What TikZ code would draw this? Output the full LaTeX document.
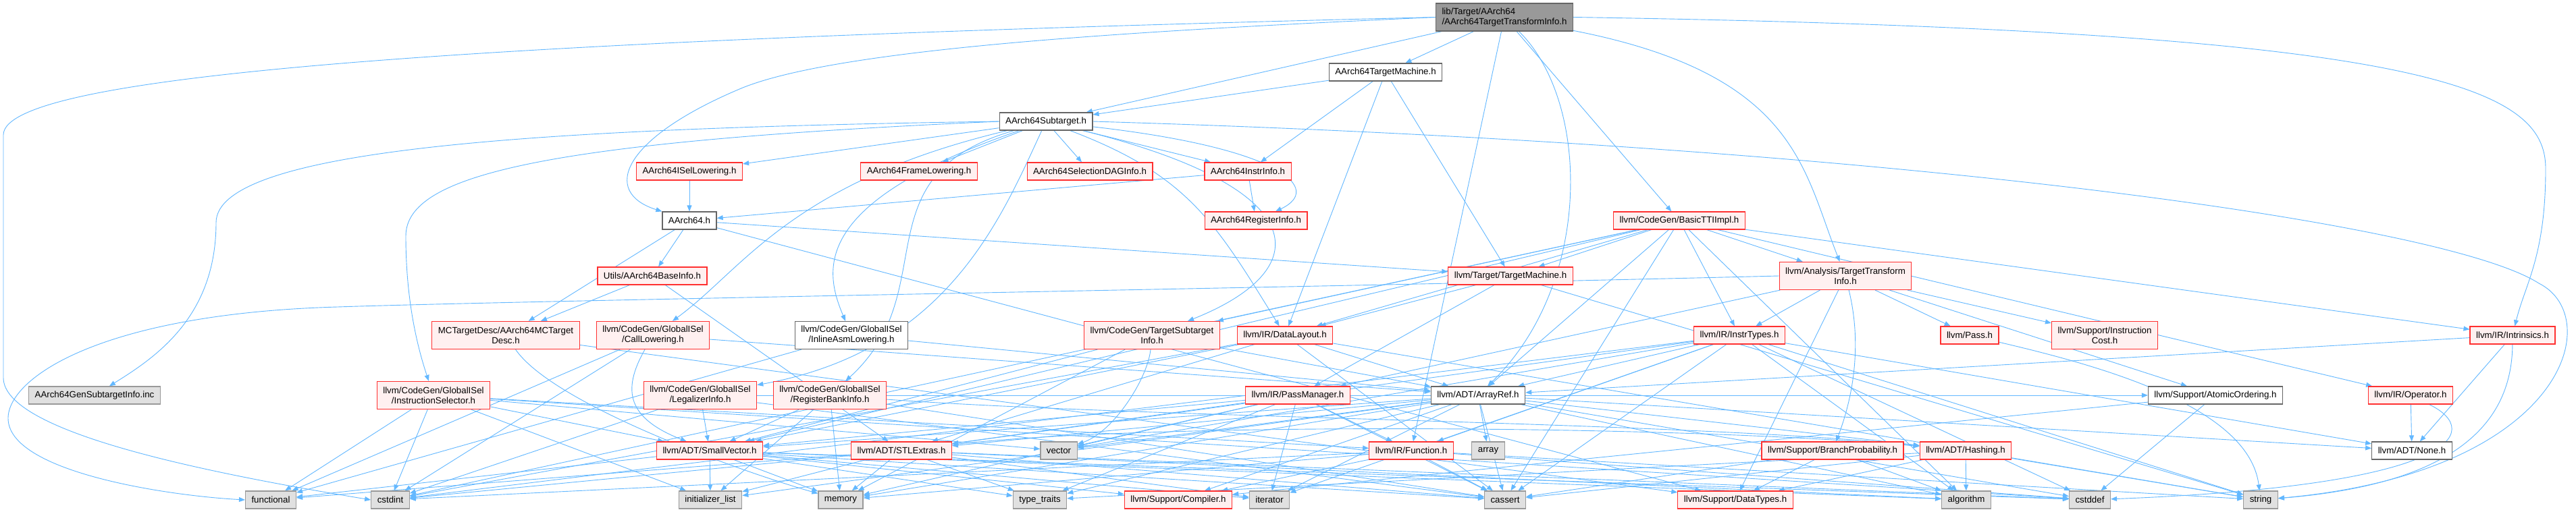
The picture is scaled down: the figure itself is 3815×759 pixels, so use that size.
\documentclass[tikz,border=0pt]{standalone}
\usepackage{fontspec}
\setmainfont{Liberation Sans}
\usetikzlibrary{arrows.meta, backgrounds}

\definecolor{edgeblue}{HTML}{63B8FF}
\definecolor{rootgray}{HTML}{999999}
\definecolor{bordergray}{HTML}{666666}
\definecolor{truncpink}{HTML}{FFF0F0}
\definecolor{truncred}{HTML}{FF3030}
\definecolor{sysgray}{HTML}{E0E0E0}
\definecolor{sysborder}{HTML}{999999}

\begin{document}
\begin{tikzpicture}[x=1pt, y=-1pt,
    file/.style={rectangle, draw, line width=1.2pt, inner xsep=9pt, inner ysep=2pt, minimum height=26pt, align=center, font=\fontsize{13.3pt}{15pt}\selectfont},
    mainfile/.style={file, fill=rootgray, draw=bordergray},
    plainfile/.style={file, fill=white, draw=bordergray},
    trunc/.style={file, fill=truncpink, draw=truncred},
    sysfile/.style={file, fill=sysgray, draw=sysborder},
    tall/.style={minimum height=41pt},
    inc/.style={draw=edgeblue, line width=0.9pt, -{Triangle[length=9pt, width=7pt]}}
]
    \useasboundingbox (0,0) rectangle (3815,759);
    \begin{scope}[on background layer]
        \fill[white] (0,0) rectangle (3815,759);
    \end{scope}

    % top part
    \node[mainfile, tall, align=left] (root) at (2228,25.5) {lib/Target/AArch64\\/AArch64TargetTransformInfo.h};
    \node[plainfile] (tm) at (2052,107) {AArch64TargetMachine.h};
    \node[plainfile] (sub) at (1549,180) {AArch64Subtarget.h};

    \node[trunc] (isel) at (1021,254) {AArch64ISelLowering.h};
    \node[trunc] (frame) at (1361,254) {AArch64FrameLowering.h};
    \node[trunc] (sdag) at (1614,254) {AArch64SelectionDAGInfo.h};
    \node[trunc] (instr) at (1848,254) {AArch64InstrInfo.h};

    \node[plainfile] (aarch) at (1021,327) {AArch64.h};
    \node[trunc] (reginfo) at (1860,327) {AArch64RegisterInfo.h};
    \node[trunc] (basictti) at (2487,327) {llvm/CodeGen/BasicTTIImpl.h};

    \node[trunc] (baseinfo) at (966,409) {Utils/AArch64BaseInfo.h};
    \node[trunc] (ltm) at (2237,409) {llvm/Target/TargetMachine.h};
    \node[trunc, tall] (tti) at (2733,409) {llvm/Analysis/TargetTransform\\Info.h};

    \node[trunc, tall] (mcdesc) at (749,497) {MCTargetDesc/AArch64MCTarget\\Desc.h};
    \node[trunc, tall] (calllow) at (967,497) {llvm/CodeGen/GlobalISel\\/CallLowering.h};
    \node[plainfile, tall] (inlineasm) at (1261,497) {llvm/CodeGen/GlobalISel\\/InlineAsmLowering.h};
    \node[trunc, tall] (tsi) at (1706,497) {llvm/CodeGen/TargetSubtarget\\Info.h};
    \node[trunc] (dl) at (1903,497) {llvm/IR/DataLayout.h};
    \node[trunc] (instrtypes) at (2576,497) {llvm/IR/InstrTypes.h};
    \node[trunc] (pass) at (2917,497) {llvm/Pass.h};
    \node[trunc, tall] (instcost) at (3117,497) {llvm/Support/Instruction\\Cost.h};
    \node[trunc] (intrin) at (3721,497) {llvm/IR/Intrinsics.h};

    \node[sysfile] (gensub) at (140,586) {AArch64GenSubtargetInfo.inc};
    \node[trunc, tall] (isel2) at (642,586) {llvm/CodeGen/GlobalISel\\/InstructionSelector.h};
    \node[trunc, tall] (legal) at (1037,586) {llvm/CodeGen/GlobalISel\\/LegalizerInfo.h};
    \node[trunc, tall] (rbi) at (1229,586) {llvm/CodeGen/GlobalISel\\/RegisterBankInfo.h};
    \node[trunc] (pm) at (1922,586) {llvm/IR/PassManager.h};
    \node[plainfile] (arrayref) at (2189,586) {llvm/ADT/ArrayRef.h};
    \node[plainfile] (atomic) at (3281,586) {llvm/Support/AtomicOrdering.h};
    \node[trunc] (operator) at (3570,586) {llvm/IR/Operator.h};

    \node[trunc] (smallvec) at (1051,668) {llvm/ADT/SmallVector.h};
    \node[trunc] (stlext) at (1335,668) {llvm/ADT/STLExtras.h};
    \node[sysfile] (vector) at (1568,668) {vector};
    \node[trunc] (function) at (2090,668) {llvm/IR/Function.h};
    \node[sysfile] (array) at (2204,668) {array};
    \node[trunc] (bp) at (2714,668) {llvm/Support/BranchProbability.h};
    \node[trunc] (hashing) at (2911,668) {llvm/ADT/Hashing.h};
    \node[plainfile] (none) at (3572,668) {llvm/ADT/None.h};

    % system headers
    \node[sysfile] (functional) at (401,741) {functional};
    \node[sysfile] (cstdint) at (578,741) {cstdint};
    \node[sysfile] (initlist) at (1052,741) {initializer\_list};
    \node[sysfile] (memory) at (1245,741) {memory};
    \node[sysfile] (typetraits) at (1540,741) {type\_traits};
    \node[trunc] (compiler) at (1745,741) {llvm/Support/Compiler.h};
    \node[sysfile] (iterator) at (1880,741) {iterator};
    \node[sysfile] (cassert) at (2229,741) {cassert};
    \node[trunc] (datatypes) at (2570,741) {llvm/Support/DataTypes.h};
    \node[sysfile] (algorithm) at (2912,741) {algorithm};
    \node[sysfile] (cstddef) at (3095,741) {cstddef};
    \node[sysfile] (string) at (3348,741) {string};

    \begin{scope}[on background layer]
    % root
    \draw[inc] (root) -- (tm);
    \draw[inc] (root) -- (sub);
    \draw[inc] (root.west) .. controls (1700,45) and (1250,70) .. (1100,130) .. controls (920,205) and (890,285) .. (aarch.north west);
    \draw[inc] (root) -- (function);
    \draw[inc] (root) .. controls (2355,150) and (2360,420) .. (arrayref);
    \draw[inc] (root) -- (basictti);
    \draw[inc] (root) .. controls (2660,110) and (2670,250) .. (tti);
    \draw[inc] (root.east) .. controls (3600,45) and (3770,130) .. (3770,250) .. controls (3770,380) and (3740,420) .. (intrin);
    \draw[inc] (root.west) .. controls (700,60) and (5,110) .. (5,200) -- (5,560) .. controls (5,640) and (300,700) .. (cstdint.west);

    % AArch64TargetMachine.h
    \draw[inc] (tm) -- (sub);
    \draw[inc] (tm) -- (instr);
    \draw[inc] (tm) -- (dl);
    \draw[inc] (tm) -- (ltm);

    % AArch64Subtarget.h
    \draw[inc] (sub) -- (isel);
    \draw[inc] (sub) -- (frame);
    \draw[inc] (sub) -- (sdag);
    \draw[inc] (sub) -- (instr);
    \draw[inc] (sub) .. controls (1900,220) and (1960,280) .. (reginfo);
    \draw[inc] (sub) .. controls (1170,270) and (1100,400) .. (calllow);
    \draw[inc] (sub) .. controls (1200,300) and (1220,400) .. (inlineasm);
    \draw[inc] (sub.west) .. controls (800,210) and (601,260) .. (601,350) .. controls (601,450) and (620,520) .. (isel2);
    \draw[inc] (sub.west) .. controls (800,190) and (320,220) .. (320,330) .. controls (320,470) and (230,530) .. (gensub);
    \draw[inc] (sub) .. controls (1480,330) and (1400,520) .. (legal);
    \draw[inc] (sub) .. controls (1270,260) and (1400,430) .. (rbi);
    \draw[inc] (sub) .. controls (1950,280) and (1950,400) .. (tsi);
    \draw[inc] (sub) .. controls (1760,260) and (1800,330) .. (dl);
    \draw[inc] (sub.east) .. controls (2800,215) and (3620,330) .. (3760,420) .. controls (3860,470) and (3800,700) .. (string);

    % AArch64 backend headers
    \draw[inc] (isel) -- (aarch);
    \draw[inc] (instr) -- (aarch);
    \draw[inc] (instr) -- (reginfo);
    \draw[inc] (aarch) -- (mcdesc);
    \draw[inc] (aarch) -- (baseinfo);
    \draw[inc] (aarch) -- (datatypes);
    \draw[inc] (aarch) -- (ltm);
    \draw[inc] (baseinfo) -- (mcdesc);
    \draw[inc] (baseinfo) -- (stlext);
    \draw[inc] (mcdesc) -- (datatypes);
    \draw[inc] (mcdesc) .. controls (820,600) and (1100,700) .. (memory);

    % GlobalISel and CodeGen
    \draw[inc] (calllow) -- (arrayref);
    \draw[inc] (calllow) .. controls (920,580) and (930,620) .. (smallvec);
    \draw[inc] (calllow) -- (cstdint);
    \draw[inc] (calllow) -- (functional);
    \draw[inc] (inlineasm) -- (arrayref);
    \draw[inc] (inlineasm) -- (functional);
    \draw[inc] (tsi) -- (arrayref);
    \draw[inc] (tsi) -- (smallvec);
    \draw[inc] (tsi) -- (memory);
    \draw[inc] (tsi) .. controls (1700,560) and (1650,640) .. (vector);
    \draw[inc] (isel2) -- (smallvec);
    \draw[inc] (isel2) -- (function);
    \draw[inc] (isel2) -- (cstddef);
    \draw[inc] (isel2) -- (cstdint);
    \draw[inc] (isel2) -- (functional);
    \draw[inc] (isel2) -- (initlist);
    \draw[inc] (isel2) -- (vector);
    \draw[inc] (legal) -- (smallvec);
    \draw[inc] (legal) -- (atomic);
    \draw[inc] (legal) -- (cassert);
    \draw[inc] (legal) -- (cstdint);
    \draw[inc] (rbi) .. controls (1700,620) and (2500,625) .. (hashing);
    \draw[inc] (rbi) -- (smallvec);
    \draw[inc] (rbi) -- (cassert);
    \draw[inc] (rbi) -- (initlist);
    \draw[inc] (rbi) -- (memory);

    % IR and Target
    \draw[inc] (dl) -- (arrayref);
    \draw[inc] (dl) -- (stlext);
    \draw[inc] (dl) -- (smallvec);
    \draw[inc] (dl) -- (cassert);
    \draw[inc] (dl) -- (cstdint);
    \draw[inc] (dl) -- (string);
    \draw[inc] (ltm) -- (dl);
    \draw[inc] (ltm) -- (pm);
    \draw[inc] (ltm) -- (string);

    % BasicTTIImpl.h
    \draw[inc] (basictti) -- (arrayref);
    \draw[inc] (basictti) -- (smallvec);
    \draw[inc] (basictti) -- (tti);
    \draw[inc] (basictti) -- (tsi);
    \draw[inc] (basictti) -- (dl);
    \draw[inc] (basictti) -- (instrtypes);
    \draw[inc] (basictti) -- (intrin);
    \draw[inc] (basictti) -- (operator);
    \draw[inc] (basictti) -- (ltm);
    \draw[inc] (basictti) -- (algorithm);
    \draw[inc] (basictti) -- (cassert);
    \draw[inc] (basictti) -- (cstdint);

    % TargetTransformInfo.h
    \draw[inc] (tti) -- (instrtypes);
    \draw[inc] (tti) -- (pm);
    \draw[inc] (tti) -- (pass);
    \draw[inc] (tti) -- (atomic);
    \draw[inc] (tti) .. controls (2760,520) and (2740,600) .. (bp);
    \draw[inc] (tti) -- (datatypes);
    \draw[inc] (tti) -- (instcost);
    \draw[inc] (tti.west) .. controls (2000,425) and (800,445) .. (500,455) .. controls (150,465) and (12,560) .. (12,620) .. controls (12,700) and (250,735) .. (functional.west);

    % InstrTypes.h
    \draw[inc] (instrtypes) -- (arrayref);
    \draw[inc] (instrtypes) -- (stlext);
    \draw[inc] (instrtypes) -- (function);
    \draw[inc] (instrtypes) -- (none);
    \draw[inc] (instrtypes) -- (algorithm);
    \draw[inc] (instrtypes) -- (cassert);
    \draw[inc] (instrtypes) -- (cstddef);
    \draw[inc] (instrtypes) -- (cstdint);
    \draw[inc] (instrtypes) -- (iterator);
    \draw[inc] (instrtypes) -- (string);
    \draw[inc] (instrtypes) -- (vector);

    \draw[inc] (intrin) -- (arrayref);
    \draw[inc] (intrin) -- (none);
    \draw[inc] (intrin) .. controls (3720,650) and (3600,720) .. (string);
    \draw[inc] (operator) -- (none);
    \draw[inc] (operator) .. controls (3680,640) and (3640,720) .. (cstddef);

    % PassManager.h
    \draw[inc] (pm) -- (stlext);
    \draw[inc] (pm) -- (smallvec);
    \draw[inc] (pm) -- (function);
    \draw[inc] (pm) -- (cassert);
    \draw[inc] (pm) -- (iterator);
    \draw[inc] (pm) -- (memory);
    \draw[inc] (pm) -- (typetraits);
    \draw[inc] (pm) -- (vector);

    \draw[inc] (pass) .. controls (3100,540) and (3330,600) .. (string);
    \draw[inc] (atomic) -- (compiler);
    \draw[inc] (atomic) -- (cstddef);
    \draw[inc] (bp) -- (datatypes);
    \draw[inc] (bp) -- (algorithm);
    \draw[inc] (bp) -- (cassert);
    \draw[inc] (hashing) -- (datatypes);
    \draw[inc] (hashing) -- (algorithm);
    \draw[inc] (hashing) -- (cassert);
    \draw[inc] (hashing) -- (string);
    \draw[inc] (hashing) -- (typetraits);

    % Function.h
    \draw[inc] (function) -- (compiler);
    \draw[inc] (function) -- (cassert);
    \draw[inc] (function) -- (cstddef);
    \draw[inc] (function) -- (cstdint);
    \draw[inc] (function) -- (memory);
    \draw[inc] (function) -- (string);

    % ArrayRef.h
    \draw[inc] (arrayref) -- (hashing);
    \draw[inc] (arrayref) -- (none);
    \draw[inc] (arrayref) -- (stlext);
    \draw[inc] (arrayref) -- (smallvec);
    \draw[inc] (arrayref) -- (compiler);
    \draw[inc] (arrayref) -- (algorithm);
    \draw[inc] (arrayref) -- (array);
    \draw[inc] (arrayref) -- (cassert);
    \draw[inc] (arrayref) -- (cstddef);
    \draw[inc] (arrayref) -- (initlist);
    \draw[inc] (arrayref) -- (iterator);
    \draw[inc] (arrayref) -- (memory);
    \draw[inc] (arrayref) -- (typetraits);
    \draw[inc] (arrayref) -- (vector);

    % SmallVector.h
    \draw[inc] (smallvec) -- (compiler);
    \draw[inc] (smallvec) -- (algorithm);
    \draw[inc] (smallvec) -- (cassert);
    \draw[inc] (smallvec) -- (cstddef);
    \draw[inc] (smallvec) -- (functional);
    \draw[inc] (smallvec) -- (initlist);
    \draw[inc] (smallvec) -- (iterator);
    \draw[inc] (smallvec) -- (memory);
    \draw[inc] (smallvec) -- (typetraits);

    % STLExtras.h
    \draw[inc] (stlext) .. controls (1700,625) and (2500,630) .. (hashing);
    \draw[inc] (stlext) -- (algorithm);
    \draw[inc] (stlext) -- (cassert);
    \draw[inc] (stlext) -- (cstddef);
    \draw[inc] (stlext) -- (cstdint);
    \draw[inc] (stlext) -- (functional);
    \draw[inc] (stlext) -- (initlist);
    \draw[inc] (stlext) -- (iterator);
    \draw[inc] (stlext) -- (memory);
    \draw[inc] (stlext) -- (typetraits);
    \end{scope}
\end{tikzpicture}
\end{document}
